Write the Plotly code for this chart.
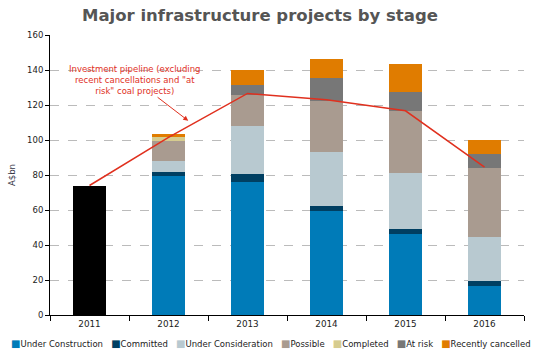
import plotly.graph_objects as go

years = ["2011", "2012", "2013", "2014", "2015", "2016"]
total_2011 = [74, None, None, None, None, None]
under_construction = [None, 79.6, 76, 59.4, 46.3, 16.6]
committed = [None, 2.1, 4.6, 2.9, 2.8, 2.8]
under_consideration = [None, 6.3, 27.4, 30.8, 32.0, 25.2]
possible = [None, 11.4, 17.7, 29.4, 35.5, 39.4]
completed = [None, 2.3, 0, 0, 0, 0]
at_risk = [None, 0, 5.7, 12.9, 10.8, 8.0]
recently_cancelled = [None, 1.7, 8.6, 10.9, 16.0, 8.0]
pipeline = [74, 101.5, 126.6, 123, 116.7, 84.5]

series_names = ["Under Construction", "Committed", "Under Consideration", "Possible",
                "Completed", "At risk", "Recently cancelled"]
series_values = [under_construction, committed, under_consideration, possible,
                 completed, at_risk, recently_cancelled]
series_colors = ["#007bb8", "#003f62", "#b8c9d0", "#a99b90", "#d6cc8f", "#777777", "#e07c00"]

FONT = "DejaVu Sans"

fig = go.Figure()
fig.add_trace(go.Bar(x=years, y=total_2011, marker=dict(color="#000000", line_width=0),
                     showlegend=False, name="2011"))
for name, vals, col in zip(series_names, series_values, series_colors):
    fig.add_trace(go.Bar(x=years, y=vals, name=name, marker=dict(color=col, line_width=0),
                         showlegend=False))
fig.add_trace(go.Scatter(x=years, y=pipeline, mode="lines", line=dict(color="#e0301e", width=1.5),
                         showlegend=False, name="Investment pipeline"))

legend_text = "&nbsp;&nbsp;&nbsp;".join(
    f'<span style="color:{c};font-size:10px">■</span>{n}'
    for n, c in zip(series_names, series_colors))

fig.update_layout(
    width=545, height=358,
    margin=dict(l=50, r=21, t=35, b=43),
    paper_bgcolor="white", plot_bgcolor="white",
    barmode="stack", bargap=0.58,
    font=dict(family=FONT, size=8.5, color="#222222"),
    title=dict(text="<b>Major infrastructure projects by stage</b>",
               font=dict(family=FONT, size=16.5, color="#555555"),
               x=0.477, xanchor="center", y=0.958, yanchor="middle", xref="container", yref="container"),
    xaxis=dict(type="category", showline=True, linecolor="black", linewidth=1,
               ticks="outside", tickson="boundaries", ticklen=5, tickcolor="black",
               showgrid=False, automargin=False, tickfont=dict(size=8.8, color="#222222")),
    yaxis=dict(range=[0, 160], dtick=20, showline=True, linecolor="black", linewidth=1,
               ticks="outside", ticklen=4, tickcolor="black", automargin=False,
               showgrid=True, gridcolor="#bbbbbb", griddash="dash", gridwidth=1,
               zeroline=False, tickfont=dict(size=8.5, color="#222222"),
               title=dict(text="A$bn", font=dict(size=8.5, color="#333344"), standoff=10)),
    annotations=[
        dict(x=1.25, y=111, xref="x", yref="y", ax=-53.5, ay=-41,
             text="Investment pipeline (excluding<br>recent cancellations and \"at<br>risk\" coal projects)",
             font=dict(family=FONT, size=8.5, color="#e0301e"),
             showarrow=True, arrowhead=2, arrowsize=1, arrowwidth=1, arrowcolor="#e0301e",
             standoff=0),
        dict(x=0.467, y=-0.1, xref="paper", yref="paper", xanchor="center", yanchor="middle",
             text=legend_text, showarrow=False, font=dict(family=FONT, size=8.5, color="#222222")),
    ],
)

fig.write_html("out.html", config={"displayModeBar": False},
               post_script="document.body.style.margin='0px';")
